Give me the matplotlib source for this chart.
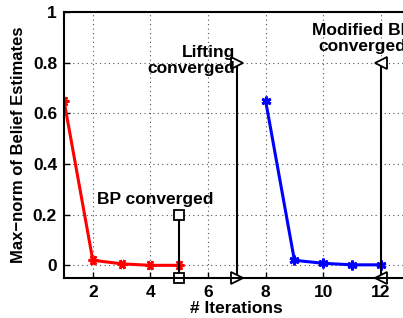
import matplotlib
matplotlib.use("Agg")
import matplotlib.pyplot as plt

plt.rcParams['font.family'] = ['Liberation Sans', 'DejaVu Sans']
plt.rcParams['font.weight'] = 'bold'

bp_iter = [1, 2, 3, 4, 5]
bp_vals = [0.65, 0.02, 0.006, 0.0, 0.0]
mbp_iter = [8, 9, 10, 11, 12]
mbp_vals = [0.65, 0.02, 0.008, 0.002, 0.002]

xticks = [2, 4, 6, 8, 10, 12]
yticks = [0, 0.2, 0.4, 0.6, 0.8, 1]
ytick_labels = ['0', '0.2', '0.4', '0.6', '0.8', '1']

W, H = 403, 318
fig = plt.figure(figsize=(W / 100, H / 100), dpi=100)
ax = fig.add_axes([64 / W, (H - 278) / H, 345.6 / W, 266 / H])

ax.plot(bp_iter, bp_vals, color='red', lw=2.2, marker=(6, 2, 90), ms=7, mew=2)
ax.plot(mbp_iter, mbp_vals, color='blue', lw=2.2, marker=(6, 2, 0), ms=7, mew=2)

# convergence markers
ax.plot([5, 5], [-0.05, 0.2], color='black', lw=1.5)
ax.plot([5, 5], [-0.05, 0.2], ls='none', marker='s', ms=7, mfc='white', mec='black', mew=1.3, clip_on=False)
ax.plot([7, 7], [-0.05, 0.8], color='black', lw=1.5)
ax.plot([7, 7], [-0.05, 0.8], ls='none', marker='>', ms=8, mfc='white', mec='black', mew=1.3, clip_on=False)
ax.plot([12, 12], [-0.05, 0.8], color='black', lw=1.5)
ax.plot([12, 12], [-0.05, 0.8], ls='none', marker='<', ms=8, mfc='white', mec='black', mew=1.3, clip_on=False)

ax.text(4.15, 0.26, 'BP converged', ha='center', va='center', fontsize=12.5, fontweight='bold')
ax.text(6.93, 0.81, 'Lifting\nconverged', ha='right', va='center', fontsize=12.5, fontweight='bold', linespacing=1.1)
ax.text(11.35, 0.895, 'Modified BP\nconverged', ha='center', va='center', fontsize=12.5, fontweight='bold', linespacing=1.1)

ax.set_xlim(1, 13)
ax.set_ylim(-0.05, 1)
ax.set_xticks(xticks)
ax.set_yticks(yticks)
ax.set_yticklabels(ytick_labels)
ax.tick_params(direction='in', labelsize=12.5, width=1, length=4, pad=5)
for lab in ax.get_xticklabels() + ax.get_yticklabels():
    lab.set_fontweight('bold')
ax.grid(True, ls=(0, (1, 3)), color='#555555', lw=0.8)
for s in ax.spines.values():
    s.set_linewidth(1.5)

ax.set_xlabel('# Iterations', fontsize=12.5, fontweight='bold', labelpad=1)
ax.set_ylabel('Max\u2212norm of Belief Estimates', fontsize=12, fontweight='bold', labelpad=5)

fig.savefig('out.png', dpi=100)
